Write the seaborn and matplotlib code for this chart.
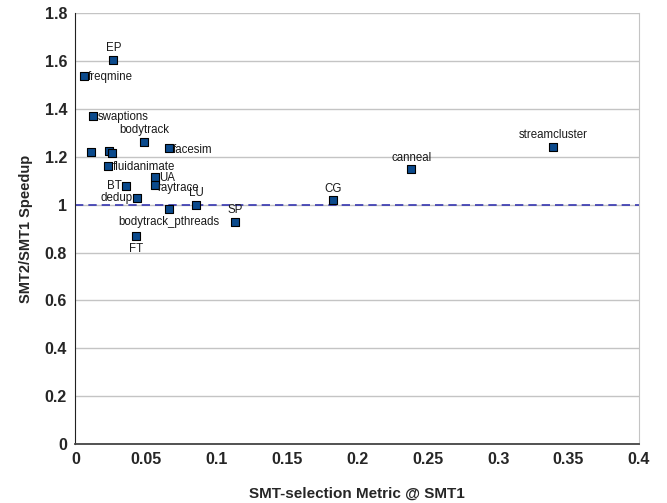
import numpy as np
import pandas as pd
import matplotlib
matplotlib.use("Agg")
import matplotlib.pyplot as plt
import seaborn as sns

# ---------------------------------------------------------
# DATA
# ---------------------------------------------------------
benchmarks = ["EP", "freqmine", "swaptions", "bodytrack", "facesim",
              "", "", "", "fluidanimate", "UA", "raytrace", "BT",
              "dedup", "LU", "bodytrack_pthreads", "SP", "FT", "CG",
              "canneal", "streamcluster"]
smt_metric = [0.027, 0.006, 0.0126, 0.0488, 0.0665,
              0.0112, 0.0238, 0.0259, 0.0235, 0.0566, 0.0562, 0.036,
              0.0434, 0.0857, 0.0665, 0.1133, 0.0429, 0.183,
              0.2384, 0.339]
speedup = [1.604, 1.539, 1.371, 1.262, 1.235,
           1.218, 1.225, 1.215, 1.162, 1.117, 1.082, 1.079,
           1.028, 1.0, 0.981, 0.928, 0.868, 1.019,
           1.148, 1.242]

x_ticks = [0, 0.05, 0.1, 0.15, 0.2, 0.25, 0.3, 0.35, 0.4]
x_tick_labels = ["0", "0.05", "0.1", "0.15", "0.2", "0.25", "0.3", "0.35", "0.4"]
y_ticks = [0, 0.2, 0.4, 0.6, 0.8, 1, 1.2, 1.4, 1.6, 1.8]
y_tick_labels = ["0", "0.2", "0.4", "0.6", "0.8", "1", "1.2", "1.4", "1.6", "1.8"]

df = pd.DataFrame({"Benchmark": benchmarks,
                   "Metric": smt_metric,
                   "Speedup": speedup})

# label placement: where the text sits relative to its marker
place = {
    "EP": "above", "freqmine": "right", "swaptions": "right",
    "bodytrack": "above", "facesim": "right", "fluidanimate": "right",
    "UA": "right", "raytrace": "right_low", "BT": "left", "dedup": "left",
    "LU": "above", "bodytrack_pthreads": "below", "SP": "above",
    "FT": "below", "CG": "above", "canneal": "above",
    "streamcluster": "above",
}
offsets = {
    "above": ((0, 4), "center", "bottom"),
    "below": ((0, -5), "center", "top"),
    "right": ((3, -1), "left", "center"),
    "right_low": ((2, -2), "left", "center"),
    "left": ((-3, 0), "right", "center"),
}

# ---------------------------------------------------------
# PLOT
# ---------------------------------------------------------
sns.set_style("white")
plt.rcParams["font.family"] = ["Liberation Sans", "DejaVu Sans"]

fig = plt.figure(figsize=(6.67, 5.03), dpi=100)
ax = fig.add_axes([0.113, 0.117, 0.845, 0.857])

ax.axhline(1.0, color="#3636b0", lw=1.2, ls=(0, (5, 3)), zorder=2)

sns.scatterplot(data=df, x="Metric", y="Speedup", marker="s", s=28,
                color="#0b4a8c", edgecolor="black", linewidth=0.8,
                ax=ax, zorder=3, legend=False)

for name, xv, yv in zip(benchmarks, smt_metric, speedup):
    if not name:
        continue
    (dx, dy), ha, va = offsets[place[name]]
    ax.annotate(name, (xv, yv), xytext=(dx, dy), textcoords="offset points",
                ha=ha, va=va, fontsize=8.3, color="#1a1a1a", zorder=4)

ax.set_xlim(0, 0.4)
ax.set_ylim(0, 1.8)
ax.set_xticks(x_ticks)
ax.set_xticklabels(x_tick_labels)
ax.set_yticks(y_ticks)
ax.set_yticklabels(y_tick_labels)
ax.tick_params(axis="both", which="major", direction="out", length=4,
               width=1, color="#333333", labelsize=11.5, pad=2)
for lab in ax.get_xticklabels() + ax.get_yticklabels():
    lab.set_fontweight("bold")

ax.yaxis.grid(True, color="#c4c4c4", lw=1)
ax.xaxis.grid(False)
ax.set_axisbelow(True)

ax.spines["top"].set_visible(False)
ax.spines["left"].set_color("#222222")
ax.spines["bottom"].set_color("#444444")
ax.spines["bottom"].set_linewidth(1.3)
ax.spines["right"].set_color("#c4c4c4")

ax.set_xlabel("SMT-selection Metric @ SMT1", fontsize=11, fontweight="bold",
              labelpad=14)
ax.set_ylabel("SMT2/SMT1 Speedup", fontsize=10.5, fontweight="bold",
              labelpad=8)

fig.savefig("out.png", dpi=100)
